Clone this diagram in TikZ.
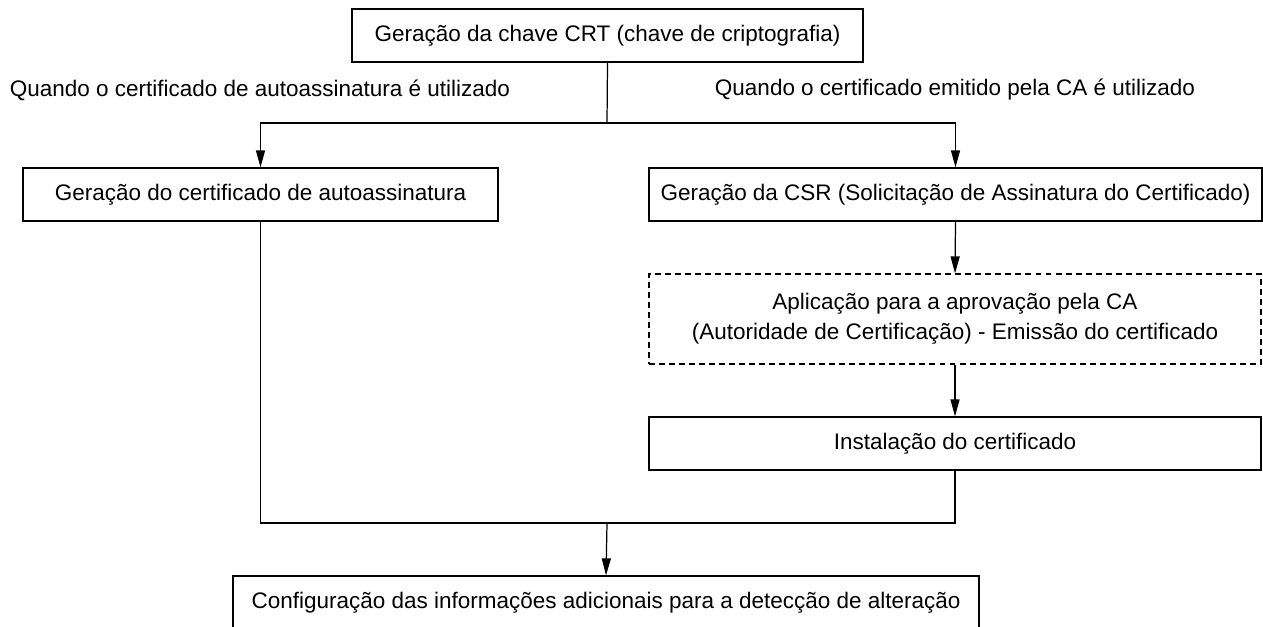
\documentclass[tikz,border=0pt]{standalone}
\usepackage{fontspec}
\setmainfont{Liberation Sans}
\usetikzlibrary{arrows.meta}
\begin{document}
\begin{tikzpicture}[x=0.02cm,y=-0.02cm,
  every node/.style={font=\fontsize{12.8}{17}\selectfont},
  box/.style={draw,line width=0.7pt,inner sep=0pt,minimum height=1.06cm,align=center},
  dbox/.style={box,dashed,dash pattern=on 3.4pt off 2.3pt},
  arr/.style={-{Triangle[length=3.4mm,width=1.8mm]}},
  ln/.style={line width=0.7pt}]
\useasboundingbox (0,0) rectangle (1263,626);
\node[box,minimum width=10.22cm] (top) at (607.5,35.5) {Geração da chave CRT (chave de criptografia)};
\node (lablL) at (260,90) {Quando o certificado de autoassinatura é utilizado};
\node (lablR) at (955,90) {Quando o certificado emitido pela CA é utilizado};
\node[box,minimum width=9.5cm] (left) at (260.5,194.5) {Geração do certificado de autoassinatura};
\node[box,minimum width=12.26cm] (csr) at (955.5,194.5) {Geração da CSR (Solicitação de Assinatura do Certificado)};
\node[dbox,minimum width=12.24cm,minimum height=1.8cm] (ca) at (955,319) {Aplicação para a aprovação pela CA\\(Autoridade de Certificação) - Emissão do certificado};
\node[box,minimum width=12.24cm] (inst) at (955,443.5) {Instalação do certificado};
\node[box,minimum width=14.92cm] (final) at (606,602.5) {Configuração das informações adicionais para a detecção de alteração};
\coordinate (j) at (607,123);
\coordinate (m) at (607,523);
\draw[ln] (top.south) -- (j);
\draw[ln,arr] (j) -| (left.north);
\draw[ln,arr] (j) -| (csr.north);
\draw[ln,arr] (csr.south) -- (ca.north);
\draw[ln,arr] (ca.south) -- (inst.north);
\draw[ln] (left.south) -- (left.south |- m) -- (inst.south |- m) -- (inst.south);
\draw[ln,arr] (m) -- (final.north);
\end{tikzpicture}
\end{document}
